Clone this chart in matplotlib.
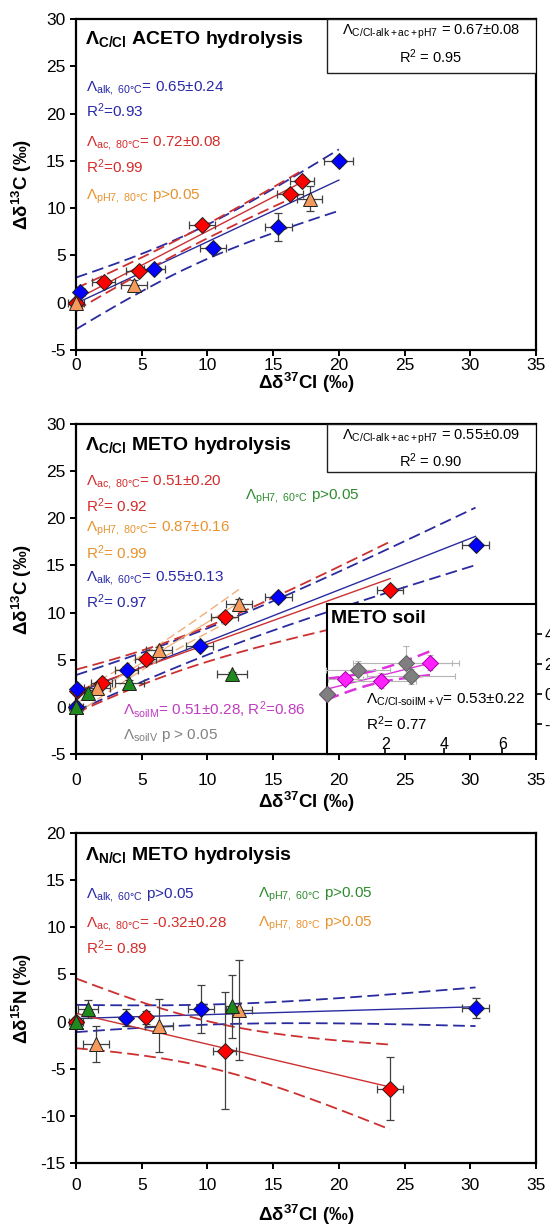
import numpy as np
import matplotlib
matplotlib.use('Agg')
import matplotlib.pyplot as plt
from matplotlib.patches import Rectangle

plt.rcParams['font.family'] = ['Liberation Sans', 'DejaVu Sans']
plt.rcParams['mathtext.fontset'] = 'custom'
plt.rcParams['mathtext.rm'] = 'Liberation Sans'
plt.rcParams['mathtext.it'] = 'Liberation Sans:italic'
plt.rcParams['mathtext.bf'] = 'Liberation Sans:bold'
plt.rcParams['mathtext.default'] = 'regular'
plt.rcParams['axes.unicode_minus'] = False

# ---------------- data ----------------
# Panel A: ACETO hydrolysis  (d13C vs d37Cl)
a_alk_x = [0.0, 0.3, 5.96, 10.4, 15.4, 20.0]
a_alk_y = [0.0, 1.1, 3.6, 5.8, 8.0, 15.0]
a_alk_xe = [0.0, 0.4, 0.8, 1.0, 1.0, 1.1]
a_alk_ye = [0.0, 0.3, 0.3, 0.4, 1.45, 0.4]
a_ac_x = [0.0, 2.1, 4.8, 9.6, 16.3, 17.2]
a_ac_y = [0.0, 2.2, 3.4, 8.2, 11.5, 12.9]
a_ac_xe = [0.0, 0.9, 1.0, 1.0, 1.0, 0.9]
a_ac_ye = [0.0, 0.3, 0.3, 0.3, 0.3, 0.3]
a_ph7_x = [0.0, 4.4, 17.8]
a_ph7_y = [0.0, 1.85, 11.0]
a_ph7_xe = [0.6, 1.0, 0.95]
a_ph7_ye = [0.2, 0.6, 1.3]

# Panel B: METO hydrolysis (d13C vs d37Cl)
b_ac_x = [0.0, 0.1, 1.95, 5.3, 11.3, 23.9]
b_ac_y = [0.0, 1.7, 2.5, 5.1, 9.5, 12.4]
b_ac_xe = [0.0, 0.3, 0.8, 0.8, 1.0, 1.0]
b_ac_ye = [0.0, 0.2, 0.3, 0.3, 0.3, 0.3]
b_alk_x = [0.0, 0.1, 3.85, 9.4, 15.4, 30.4]
b_alk_y = [0.0, 1.9, 3.9, 6.5, 11.6, 17.2]
b_alk_xe = [0.0, 0.3, 0.9, 1.0, 1.0, 1.0]
b_alk_ye = [0.0, 0.3, 0.3, 0.4, 0.4, 0.4]
b_ph780_x = [0.0, 1.6, 6.3, 12.4]
b_ph780_y = [0.0, 2.0, 6.0, 10.9]
b_ph780_xe = [0.0, 1.0, 1.0, 1.0]
b_ph780_ye = [0.0, 0.4, 0.4, 0.5]
b_ph760_x = [0.0, 0.9, 4.05, 11.85]
b_ph760_y = [0.0, 1.5, 2.5, 3.45]
b_ph760_xe = [0.5, 0.3, 1.1, 1.15]
b_ph760_ye = [0.0, 0.3, 0.3, 0.3]

# Inset: METO soil
s_m_x = [0.0, 0.62, 1.85, 3.53]
s_m_y = [0.0, 1.0, 0.87, 2.07]
s_m_xe = [0.0, 0.6, 1.2, 0.75]
s_m_ye = [0.0, 0.3, 0.5, 0.5]
s_v_x = [0.0, 1.06, 2.7, 2.88]
s_v_y = [0.0, 1.6, 2.07, 1.2]
s_v_xe = [0.0, 1.1, 1.8, 1.5]
s_v_ye = [0.0, 0.6, 1.1, 0.5]

# Panel C: METO hydrolysis (d15N vs d37Cl)
c_alk_x = [0.0, 3.8, 9.5, 30.4]
c_alk_y = [0.0, 0.4, 1.3, 1.4]
c_alk_xe = [0.0, 0.3, 1.0, 1.0]
c_alk_ye = [0.0, 0.9, 2.55, 1.05]
c_ac_x = [0.0, 5.3, 11.3, 23.9]
c_ac_y = [0.0, 0.45, -3.1, -7.1]
c_ac_xe = [0.0, 0.3, 0.9, 1.0]
c_ac_ye = [0.0, 0.7, 6.2, 3.3]
c_ph780_x = [0.0, 1.5, 6.3, 12.4]
c_ph780_y = [0.0, -2.4, -0.45, 1.2]
c_ph780_xe = [0.0, 1.0, 1.05, 1.0]
c_ph780_ye = [0.0, 1.9, 2.8, 5.3]
c_ph760_x = [0.0, 0.9, 11.9]
c_ph760_y = [0.0, 1.35, 1.6]
c_ph760_xe = [0.5, 0.76, 0.6]
c_ph760_ye = [0.3, 0.94, 3.3]

x_ticks = [0, 5, 10, 15, 20, 25, 30, 35]
y_ticks_c = [-5, 0, 5, 10, 15, 20, 25, 30]
y_ticks_n = [-15, -10, -5, 0, 5, 10, 15, 20]

# ---------------- styles ----------------
BLUE_M, BLUE_L, BLUE_T = '#0000ff', '#2b2ba0', '#2828a8'
RED_M, RED_L, RED_T = '#ff0000', '#cc3030', '#d42c2c'
OR_M, OR_L, OR_T = '#f39a5c', '#f0b07a', '#e8922e'
GR_M, GR_T = '#1e8a1e', '#2e8b2e'
MAG_M, MAG_L, MAG_T = '#ff22ff', '#dd33dd', '#c03cc0'
GRAY_M, GRAY_T = '#7f7f7f', '#808080'
FS = 11

T975 = {1: 12.706, 2: 4.303, 3: 3.182, 4: 2.776, 5: 2.571, 6: 2.447,
        7: 2.365, 8: 2.306, 9: 2.262, 10: 2.228}

W, H = 550, 1229
fig = plt.figure(figsize=(W / 100, H / 100), dpi=100)


def px_axes(l, t, r, b, **kw):
    return fig.add_axes([l / W, 1 - b / H, (r - l) / W, (b - t) / H], **kw)


def ftext(x, y, s, **kw):
    kw.setdefault('ha', 'left')
    kw.setdefault('va', 'center')
    fig.text(x / W, 1 - y / H, s, **kw)


def series(ax, x, y, xe, ye, marker, color, ms=9, ecol='#404040', elw=0.9,
           cap=3, mec='#202020'):
    ax.errorbar(x, y, xerr=xe, yerr=ye, fmt='none', ecolor=ecol,
                elinewidth=elw, capsize=cap, capthick=elw, zorder=3,
                clip_on=False)
    ax.plot(x, y, linestyle='none', marker=marker, ms=ms, mfc=color,
            mec=mec, mew=0.7, zorder=5, clip_on=False)


def fit(ax, x, y, color, lw=1.0, dlw=1.3, dashes=(6.5, 3)):
    x = np.asarray(x, float)
    y = np.asarray(y, float)
    n = len(x)
    b, a = np.polyfit(x, y, 1)
    xs = np.linspace(x.min(), x.max(), 200)
    yh = a + b * xs
    res = y - (a + b * x)
    s = np.sqrt(np.sum(res ** 2) / (n - 2))
    sxx = np.sum((x - x.mean()) ** 2)
    se = s * np.sqrt(1.0 / n + (xs - x.mean()) ** 2 / sxx)
    t = T975[n - 2]
    ax.plot(xs, yh, color=color, lw=lw, zorder=2)
    ax.plot(xs, yh + t * se, color=color, lw=dlw, dashes=dashes, zorder=2)
    ax.plot(xs, yh - t * se, color=color, lw=dlw, dashes=dashes, zorder=2)


def style_axes(ax, yticks, ylab, pad, xlab_top_px, bottom_px, top_px):
    ax.set_xlim(0, 35)
    ax.set_ylim(yticks[0], yticks[-1])
    ax.set_xticks(x_ticks)
    ax.set_yticks(yticks)
    for sp in ax.spines.values():
        sp.set_linewidth(1.6)
        sp.set_color('black')
    ax.tick_params(direction='out', length=4, width=1.4, labelsize=12.5)
    ax.tick_params(axis='x', pad=pad)
    ax.set_xlabel(r'Δδ$^{\mathbf{37}}$Cl (‰)', fontsize=13.5,
                  fontweight='bold')
    hpx = bottom_px - top_px
    ax.xaxis.set_label_coords(0.5, -(xlab_top_px - bottom_px) / hpx)
    ax.set_ylabel(ylab, fontsize=13.5, fontweight='bold')
    ax.yaxis.set_label_coords((34 - 76) / 460, 0.5)


def corner_box(ax, bottom_px, ax_top, ax_bot, l1, l2, l1y, l2y):
    x0 = (327 - 76) / 460
    hp = ax_bot - ax_top
    y0 = 1 - (bottom_px - ax_top) / hp
    ax.add_patch(Rectangle((x0, y0), 1 - x0, 1 - y0, transform=ax.transAxes,
                           fc='white', ec='#202020', lw=1.0, zorder=6))
    ftext(431, l1y, l1, ha='center', fontsize=10.5, zorder=7)
    ftext(431, l2y, l2, ha='center', fontsize=10.5, zorder=7)


ax1 = px_axes(76, 19, 536, 350)
ax2 = px_axes(76, 424, 536, 754)
ax3 = px_axes(76, 833, 536, 1163)
axin = px_axes(327, 604, 536, 754)
axin.set_zorder(10)

# ---------------- Panel A ----------------
fit(ax1, a_alk_x, a_alk_y, BLUE_L)
fit(ax1, a_ac_x, a_ac_y, RED_L)
series(ax1, a_alk_x, a_alk_y, a_alk_xe, a_alk_ye, 'D', BLUE_M, ms=8.5)
series(ax1, a_ac_x, a_ac_y, a_ac_xe, a_ac_ye, 'D', RED_M, ms=8.5)
series(ax1, a_ph7_x, a_ph7_y, a_ph7_xe, a_ph7_ye, '^', OR_M, ms=9.5)
style_axes(ax1, y_ticks_c, r'Δδ$^{\mathbf{13}}$C (‰)', 1.5, 371, 350, 19)
corner_box(ax1, 73, 19, 350,
           r'Λ$_{C/Cl\text{-}alk+ac+pH7}$ = 0.67±0.08', r'R$^2$ = 0.95', 32, 57)

ftext(85, 40, r'Λ$_{\mathbf{C/Cl}}$ ACETO hydrolysis', fontsize=14,
      fontweight='bold')
ftext(86, 88, r'Λ$_{alk,\ 60°C}$= 0.65±0.24', color=BLUE_T, fontsize=FS)
ftext(86, 111, r'R$^2$=0.93', color=BLUE_T, fontsize=FS)
ftext(86, 143, r'Λ$_{ac,\ 80°C}$= 0.72±0.08', color=RED_T, fontsize=FS)
ftext(86, 167, r'R$^2$=0.99', color=RED_T, fontsize=FS)
ftext(86, 197, r'Λ$_{pH7,\ 80°C}$ p>0.05', color=OR_T, fontsize=FS)

# ---------------- Panel B ----------------
fit(ax2, b_alk_x, b_alk_y, BLUE_L)
fit(ax2, b_ac_x, b_ac_y, RED_L)
fit(ax2, b_ph780_x, b_ph780_y, OR_L, lw=0.9, dlw=1.0)
series(ax2, b_ac_x, b_ac_y, b_ac_xe, b_ac_ye, 'D', RED_M, ms=8.5)
series(ax2, b_alk_x, b_alk_y, b_alk_xe, b_alk_ye, 'D', BLUE_M, ms=8.5)
series(ax2, b_ph780_x, b_ph780_y, b_ph780_xe, b_ph780_ye, '^', OR_M, ms=9.5)
series(ax2, b_ph760_x, b_ph760_y, b_ph760_xe, b_ph760_ye, '^', GR_M, ms=9.5)
style_axes(ax2, y_ticks_c, r'Δδ$^{\mathbf{13}}$C (‰)', 10, 790, 754, 424)
corner_box(ax2, 472, 424, 754,
           r'Λ$_{C/Cl\text{-}alk+ac+pH7}$ = 0.55±0.09', r'R$^2$ = 0.90', 437, 461)

ftext(85, 445, r'Λ$_{\mathbf{C/Cl}}$ METO hydrolysis', fontsize=14,
      fontweight='bold')
ftext(86, 482, r'Λ$_{ac,\ 80°C}$= 0.51±0.20', color=RED_T, fontsize=FS)
ftext(86, 506, r'R$^2$= 0.92', color=RED_T, fontsize=FS)
ftext(86, 529, r'Λ$_{pH7,\ 80°C}$= 0.87±0.16', color=OR_T, fontsize=FS)
ftext(86, 553, r'R$^2$= 0.99', color=OR_T, fontsize=FS)
ftext(86, 578, r'Λ$_{alk,\ 60°C}$= 0.55±0.13', color=BLUE_T, fontsize=FS)
ftext(86, 602, r'R$^2$= 0.97', color=BLUE_T, fontsize=FS)
ftext(245, 497, r'Λ$_{pH7,\ 60°C}$ p>0.05', color=GR_T, fontsize=FS)
ftext(123, 709, r'Λ$_{soilM}$= 0.51±0.28, R$^2$=0.86', color=MAG_T,
      fontsize=FS)
ftext(123, 735, r'Λ$_{soilV}$ p > 0.05', color=GRAY_T, fontsize=FS)

# ---------------- Inset ----------------
axin.set_facecolor('white')
axin.set_xlim(0, 7.15)
axin.set_ylim(-4, 6)
axin.set_xticks([2, 4, 6])
axin.set_yticks([-2, 0, 2, 4])
axin.yaxis.tick_right()
for sp in axin.spines.values():
    sp.set_linewidth(1.5)
    sp.set_color('black')
axin.tick_params(axis='y', direction='out', length=4, width=1.2,
                 labelsize=11.5, pad=2)
axin.tick_params(axis='x', direction='in', length=4, width=1.2,
                 labelsize=11.5, pad=-12)
fit(axin, s_m_x + s_v_x, s_m_y + s_v_y, MAG_L, lw=1.0, dlw=1.8,
    dashes=(5, 2.5))
series(axin, s_m_x, s_m_y, s_m_xe, s_m_ye, 'D', MAG_M, ms=8.5,
       ecol='#b5b5b5', elw=0.8, cap=2, mec='#a000a0')
series(axin, s_v_x, s_v_y, s_v_xe, s_v_ye, 'D', GRAY_M, ms=8.5,
       ecol='#b5b5b5', elw=0.8, cap=2, mec='#606060')
axin.text(0.02, 0.90, 'METO soil', transform=axin.transAxes, fontsize=14,
          fontweight='bold', va='center')
ftext(366, 700, r'Λ$_{C/Cl\text{-}soilM+V}$= 0.53±0.22', fontsize=FS,
      zorder=12)
ftext(366, 724, r'R$^2$= 0.77', fontsize=FS, zorder=12)

# ---------------- Panel C ----------------
fit(ax3, c_alk_x, c_alk_y, BLUE_L)
fit(ax3, c_ac_x, c_ac_y, RED_L)
series(ax3, c_alk_x, c_alk_y, c_alk_xe, c_alk_ye, 'D', BLUE_M, ms=8.5)
series(ax3, c_ac_x, c_ac_y, c_ac_xe, c_ac_ye, 'D', RED_M, ms=8.5)
series(ax3, c_ph780_x, c_ph780_y, c_ph780_xe, c_ph780_ye, '^', OR_M, ms=9.5)
series(ax3, c_ph760_x, c_ph760_y, c_ph760_xe, c_ph760_ye, '^', GR_M, ms=9.5)
style_axes(ax3, y_ticks_n, r'Δδ$^{\mathbf{15}}$N (‰)', 7, 1203, 1163, 833)

ftext(85, 855, r'Λ$_{\mathbf{N/Cl}}$ METO hydrolysis', fontsize=14,
      fontweight='bold')
ftext(86, 895, r'Λ$_{alk,\ 60°C}$ p>0.05', color=BLUE_T, fontsize=FS)
ftext(258, 895, r'Λ$_{pH7,\ 60°C}$ p>0.05', color=GR_T, fontsize=FS)
ftext(86, 924, r'Λ$_{ac,\ 80°C}$= -0.32±0.28', color=RED_T, fontsize=FS)
ftext(86, 948, r'R$^2$= 0.89', color=RED_T, fontsize=FS)
ftext(258, 924, r'Λ$_{pH7,\ 80°C}$ p>0.05', color=OR_T, fontsize=FS)

fig.savefig('out.png', dpi=100)
